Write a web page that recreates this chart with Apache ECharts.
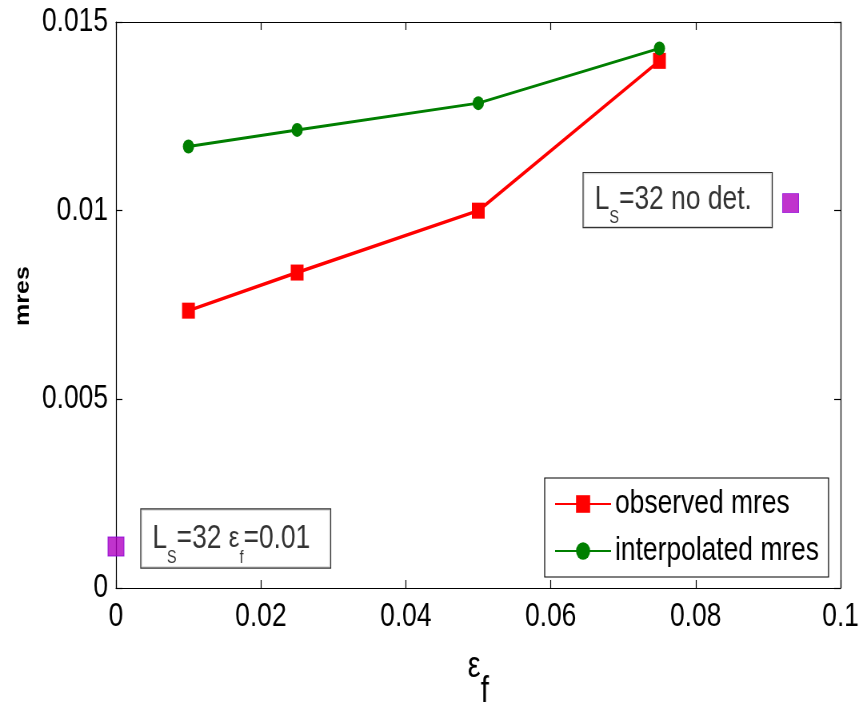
<!DOCTYPE html>
<html>
<head>
<meta charset="utf-8">
<script src="https://cdn.jsdelivr.net/npm/echarts@6/dist/echarts.min.js"></script>
<style>
  html, body { margin: 0; padding: 0; background: #fff; overflow: hidden; }
  #frame { width: 859px; height: 708px; overflow: hidden; position: relative; }
  /* the figure is drawn wide and then condensed horizontally */
  #chart { width: 1074px; height: 708px; transform: scaleX(0.7998); transform-origin: 0 0; }
</style>
</head>
<body>
<div id="frame"><div id="chart"></div></div>
<script>
// eps_f values and the measured / interpolated residual mass
const epsF = [0.01, 0.025, 0.05, 0.075];
const observedMres = [0.00735, 0.00836, 0.0100, 0.01397];
const interpolatedMres = [0.0117, 0.01214, 0.01285, 0.0143];

// Reference runs at L_s = 32 (magenta squares) and their notes
const refEps = [0, 0.0931];
const refMres = [0.0011, 0.0102];
const refNotes = [
  '{L|L}{s|S}{t|=32 }{e|ε}{s|f}{t|=0.01}',
  '{L|L}{s|S}{t|=32 no det.}'
];

// Tick labels
const xTickLabels = ['0', '0.02', '0.04', '0.06', '0.08', '0.1'];
const yTickLabels = ['0', '0.005', '0.01', '0.015'];
const X_STEP = 0.02, Y_STEP = 0.005;

const FONT = "'Liberation Sans',Arial,Helvetica,sans-serif";

const zip = (xs, ys) => xs.map((x, i) => [x, ys[i]]);

function noteRich(lineH, subLH) {
  return {
    L: { fontSize: 33, fontFamily: FONT, color: '#000', lineHeight: lineH },
    t: { fontSize: 33, fontFamily: FONT, color: '#000', lineHeight: lineH },
    e: { fontSize: 30, fontFamily: FONT, color: '#000', lineHeight: lineH },
    s: { fontSize: 18, fontFamily: FONT, color: '#000', lineHeight: subLH, verticalAlign: 'bottom' }
  };
}

const noteLabelBase = {
  show: true,
  backgroundColor: '#fff',
  borderColor: '#000',
  borderWidth: 1.2,
  padding: [0, 25, 0, 14]
};

const refData = [
  {
    value: [refEps[0], refMres[0]],
    label: Object.assign({}, noteLabelBase, {
      formatter: refNotes[0], position: 'right', distance: 21, offset: [0, -8],
      rich: noteRich(58, 14)
    })
  },
  {
    value: [refEps[1], refMres[1]],
    label: Object.assign({}, noteLabelBase, {
      formatter: refNotes[1], position: 'left', distance: 13, offset: [0, -3],
      rich: noteRich(54, 14)
    })
  }
];

const axisLine = { show: true, onZero: false, lineStyle: { color: '#000', width: 1.2 } };
const axisTick = { show: true, inside: true, length: 8, lineStyle: { color: '#000', width: 1.2 } };

const chart = echarts.init(document.getElementById('chart'));
chart.setOption({
  animation: false,
  backgroundColor: '#fff',
  grid: { left: 145, top: 22, right: 23, bottom: 120, containLabel: false, outerBoundsMode: 'none' },
  xAxis: [
    {
      type: 'value', min: 0, max: 0.1, interval: X_STEP, position: 'bottom',
      axisLine, axisTick, splitLine: { show: false },
      axisLabel: {
        margin: 12, fontSize: 33, fontFamily: FONT, color: '#000',
        formatter: v => xTickLabels[Math.round(v / X_STEP)]
      },
      name: '{e|ε}{f|f}',
      nameLocation: 'middle',
      nameGap: 61,
      nameMoveOverlap: false,
      nameTextStyle: {
        rich: {
          e: { fontSize: 36, fontFamily: FONT, color: '#000', lineHeight: 36 },
          f: { fontSize: 37, fontFamily: FONT, color: '#000', lineHeight: 37, padding: [48, 0, 0, 0] }
        }
      }
    },
    {
      type: 'value', min: 0, max: 0.1, interval: X_STEP, position: 'top',
      axisLine, axisTick, splitLine: { show: false }, axisLabel: { show: false }
    }
  ],
  yAxis: [
    {
      type: 'value', min: 0, max: 0.015, interval: Y_STEP, position: 'left',
      axisLine, axisTick, splitLine: { show: false },
      axisLabel: {
        margin: 10, fontSize: 33, fontFamily: FONT, color: '#000',
        formatter: v => yTickLabels[Math.round(v / Y_STEP)]
      },
      name: 'mres',
      nameLocation: 'middle',
      nameGap: 103,
      nameRotate: 90,
      nameMoveOverlap: false,
      nameTextStyle: {
        fontSize: 25, fontFamily: FONT, fontWeight: 'bold', color: '#000',
        padding: [0, 0, 0, 18]
      }
    },
    {
      type: 'value', min: 0, max: 0.015, interval: Y_STEP, position: 'right',
      axisLine, axisTick, splitLine: { show: false }, axisLabel: { show: false }
    }
  ],
  legend: {
    data: ['observed mres', 'interpolated mres'],
    orient: 'vertical',
    left: 681, top: 478,
    itemWidth: 70, itemHeight: 22, itemGap: 11,
    padding: [8, 12, 8, 12],
    borderColor: '#000', borderWidth: 1.2, backgroundColor: '#fff',
    textStyle: { fontSize: 33, fontFamily: FONT, color: '#000', lineHeight: 36 }
  },
  series: [
    {
      name: 'observed mres',
      type: 'line',
      data: zip(epsF, observedMres),
      symbol: 'rect', symbolSize: 16,
      itemStyle: { color: '#ff0000' },
      lineStyle: { color: '#ff0000', width: 3.5 },
      z: 3
    },
    {
      name: 'interpolated mres',
      type: 'line',
      data: zip(epsF, interpolatedMres),
      symbol: 'circle', symbolSize: 14,
      itemStyle: { color: '#007f00' },
      lineStyle: { color: '#007f00', width: 3 },
      z: 4
    },
    {
      name: 'L_s = 32',
      type: 'scatter',
      data: refData,
      symbol: 'rect', symbolSize: [20, 19],
      itemStyle: { color: '#b000c0', borderColor: '#8a00d8', borderWidth: 1 },
      z: 5
    }
  ]
});
</script>
</body>
</html>
